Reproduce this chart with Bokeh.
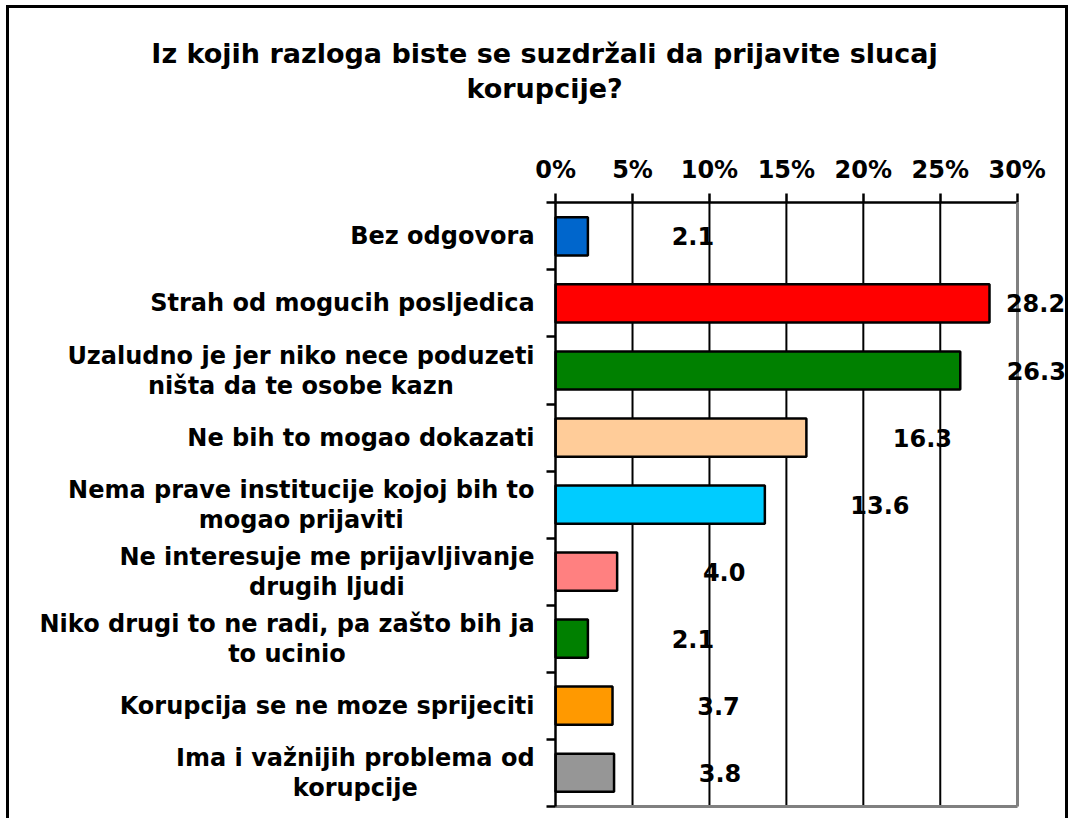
from bokeh.plotting import figure
from bokeh.models import Range1d, FixedTicker, LabelSet, Label, ColumnDataSource, PrintfTickFormatter, LinearAxis
from bokeh.core.properties import value, field
from bokeh.embed import file_html
from bokeh.resources import INLINE

title_lines = ["Iz kojih razloga biste se suzdržali da prijavite slucaj", "korupcije?"]
categories = [
    "Bez odgovora",
    "Strah od mogucih posljedica",
    "Uzaludno je jer niko nece poduzeti\nništa da te osobe kazn",
    "Ne bih to mogao dokazati",
    "Nema prave institucije kojoj bih to\nmogao prijaviti",
    "Ne interesuje me prijavljivanje\ndrugih ljudi",
    "Niko drugi to ne radi, pa zašto bih ja\nto ucinio",
    "Korupcija se ne moze sprijeciti",
    "Ima i važnijih problema od\nkorupcije",
]
values = [2.1, 28.2, 26.3, 16.3, 13.6, 4.0, 2.1, 3.7, 3.8]
colors = ["#0066CC", "#FF0000", "#008000", "#FFCC99", "#00CCFF", "#FF8080", "#008000", "#FF9900", "#969696"]
x_ticks = [0, 5, 10, 15, 20, 25, 30]
# style: pixel offsets of value labels from bar end
label_dx = [105, 46, 76, 116, 115, 107, 105, 106, 106]

FONT_NAME = "DejaVu Sans"
FONT = value(FONT_NAME)
LABEL_SIZE = 24
AXIS_MAX = 30
n = len(categories)

# ---- layout (pixels) ----
W, H = 1062, 830            # incl. 3px css border
CANVAS_X0, CANVAS_Y0 = 9, 8  # page position of canvas
CANVAS_W, CANVAS_H = W - 6, H - 6
PLOT_L, PLOT_R, PLOT_T, PLOT_B = 552, 1011, 201, 800   # plot area on the page
PX_X = (PLOT_R - PLOT_L) / AXIS_MAX
PX_Y = (PLOT_B - PLOT_T) / n
X0 = -(PLOT_L - CANVAS_X0) / PX_X
X1 = (CANVAS_X0 + CANVAS_W - PLOT_L) / PX_X
Y_TOP = -0.5 - (PLOT_T - CANVAS_Y0) / PX_Y
Y_BOT = n - 0.5 + (CANVAS_Y0 + CANVAS_H - PLOT_B) / PX_Y

# text width estimate (DejaVu Sans Bold), used to centre second lines under first lines
ADV = {" ": 713, ",": 760, ".": 760, "?": 1190, "B": 1567, "I": 760, "K": 1587, "N": 1712, "S": 1474,
       "U": 1665, "a": 1382, "b": 1466, "c": 1214, "d": 1466, "e": 1389, "g": 1466, "h": 1458,
       "i": 702, "j": 702, "k": 1362, "l": 702, "m": 2134, "n": 1458, "o": 1407, "p": 1466,
       "r": 1011, "s": 1219, "t": 979, "u": 1458, "v": 1335, "z": 1190, "š": 1219, "ž": 1190}


def text_width(s, size):
    try:
        import glob
        from PIL import ImageFont
        path = glob.glob("/usr/share/fonts/**/DejaVuSans-Bold.ttf", recursive=True)[0]
        return ImageFont.truetype(path, size).getlength(s)
    except Exception:
        return sum(ADV.get(c, 1300) for c in s) / 2048 * size


LINE_GAP = 15  # half distance between the two lines of a label
first, first_dy, second, second_y, second_dx = [], [], [], [], []
for i, c in enumerate(categories):
    parts = c.split("\n")
    first.append(parts[0])
    first_dy.append(LINE_GAP if len(parts) > 1 else 0)
    if len(parts) > 1:
        second.append(parts[1])
        second_y.append(i)
        second_dx.append(-21 - text_width(parts[0], LABEL_SIZE) / 2)

src = ColumnDataSource(dict(
    y=list(range(n)), val=values, vtxt=["%.1f" % v for v in values], color=colors, dx=label_dx,
    first=first, first_dy=first_dy,
))
src2 = ColumnDataSource(dict(y=second_y, text=second, dx=second_dx))

p = figure(width=W, height=H, x_range=Range1d(X0, X1), y_range=Range1d(Y_BOT, Y_TOP),
           x_axis_type=None, y_axis_type=None, toolbar_location=None, output_backend="svg",
           min_border=0)
p.styles = {"border": "3px solid black", "margin-left": "6px", "margin-top": "5px"}
p.background_fill_color = "white"
p.border_fill_color = "white"
p.outline_line_color = None
p.grid.visible = False

# vertical grid lines inside the plot area
grid_x = x_ticks[1:-1]
p.segment(x0=grid_x, y0=[-0.5] * len(grid_x), x1=grid_x, y1=[n - 0.5] * len(grid_x),
          line_color="black", line_width=2)

p.hbar(y="y", left=0, right="val", height=0.57, fill_color="color", line_color="black",
       line_width=2.5, source=src)

# top percentage axis
xa = LinearAxis(fixed_location=-0.5, bounds=(0, AXIS_MAX), ticker=FixedTicker(ticks=x_ticks),
                formatter=PrintfTickFormatter(format="%d%%"),
                axis_line_width=2.5, major_tick_line_width=2.5, major_tick_out=9, major_tick_in=0,
                minor_tick_out=0, minor_tick_in=0, major_label_standoff=10,
                major_label_text_font=FONT_NAME, major_label_text_font_style="bold",
                major_label_text_font_size="24px", major_label_text_color="black")
p.add_layout(xa, "above")

# left category axis: ticks between categories
ya = LinearAxis(fixed_location=0, bounds=(-0.5, n - 0.5),
                ticker=FixedTicker(ticks=[i - 0.5 for i in range(n + 1)]),
                axis_line_width=2.5, major_tick_line_width=2.5, major_tick_out=9, major_tick_in=0,
                minor_tick_out=0, minor_tick_in=0, major_label_text_font_size="0px")
p.add_layout(ya, "left")

# grey plot-area border on bottom and right
GREY = "#808080"
p.add_layout(LinearAxis(fixed_location=n - 0.5, bounds=(0, AXIS_MAX), axis_line_color=GREY,
                        axis_line_width=3, major_tick_out=0, major_tick_in=0, minor_tick_out=0,
                        minor_tick_in=0, major_label_text_font_size="0px"), "below")
p.add_layout(LinearAxis(fixed_location=AXIS_MAX, bounds=(-0.5, n - 0.5), axis_line_color=GREY,
                        axis_line_width=3, major_tick_out=0, major_tick_in=0, minor_tick_out=0,
                        minor_tick_in=0, major_label_text_font_size="0px"), "right")

common = dict(text_font=FONT, text_font_style="bold", text_font_size="%dpx" % LABEL_SIZE,
              text_color="black", text_baseline="middle")
p.add_layout(LabelSet(x=0, y="y", text="first", source=src, x_offset=-21, y_offset=field("first_dy"),
                      text_align="right", **common))
p.add_layout(LabelSet(x=0, y="y", text="text", source=src2, x_offset=field("dx"), y_offset=-LINE_GAP,
                      text_align="center", **common))
p.add_layout(LabelSet(x="val", y="y", text="vtxt", source=src, x_offset=field("dx"),
                      text_align="center", **common))

for t, dy in zip(title_lines, [PLOT_T - 52, PLOT_T - 87]):
    p.add_layout(Label(x=0, y=-0.5, x_offset=-11, y_offset=dy, text=t, text_align="center",
                       text_baseline="middle", text_font=FONT_NAME, text_font_style="bold",
                       text_font_size="27px", text_color="black"))

open("out.html", "w").write(file_html(p, INLINE))
